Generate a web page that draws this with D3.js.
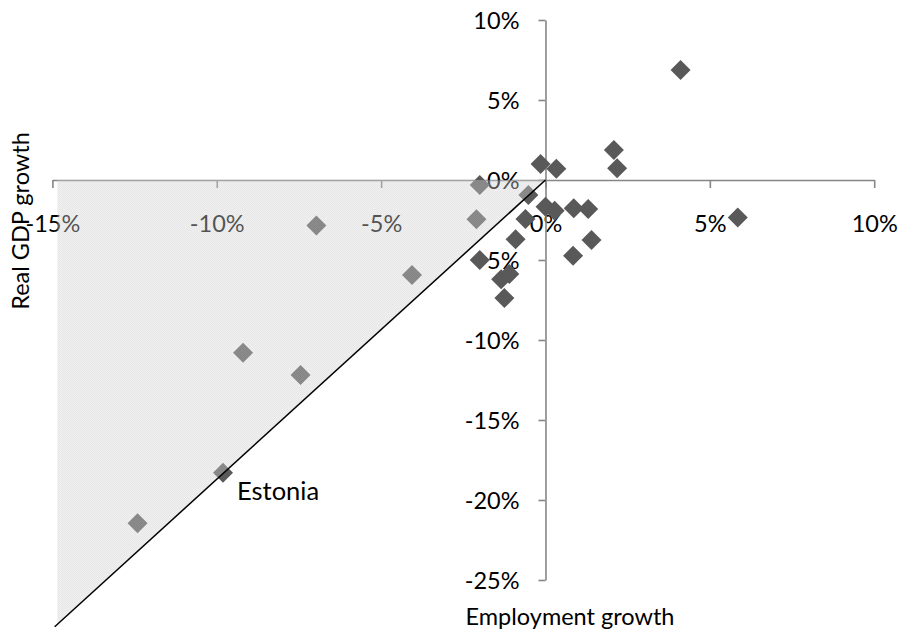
<!DOCTYPE html>
<html>
<head>
<meta charset="utf-8">
<script src="https://cdn.jsdelivr.net/npm/d3@7"></script>
<style>
  html, body { margin: 0; padding: 0; background: #fff; }
  svg { display: block; }
  text { font-family: Lato, "Open Sans", sans-serif; fill: #000; }
</style>
</head>
<body>
<svg id="chart" width="900" height="632"></svg>
<script>
// Employment growth (x, %) and real GDP growth (y, %) per country
const employment = [4.11, 5.85, 2.08, 2.18, -0.15, 0.33, 0.00, 0.28, 0.86, 1.30, 1.40, 0.84,
                    -0.52, -0.61, -0.91, -2.00, -1.35, -1.10, -1.25, -2.00, -2.10, -6.97,
                    -4.06, -9.20, -7.45, -9.81, -12.41];
const gdpGrowth  = [6.88, -2.35, 1.88, 0.73, 1.00, 0.71, -1.67, -1.92, -1.77, -1.81, -3.75, -4.73,
                    -0.94, -2.44, -3.71, -5.00, -6.21, -5.88, -7.38, -0.31, -2.46, -2.85,
                    -5.94, -10.79, -12.19, -18.29, -21.46];
const countries  = ["", "", "", "", "", "", "", "", "", "", "", "",
                    "", "", "", "", "", "", "", "", "", "",
                    "", "", "", "Estonia", ""];

const xTicks = [-15, -10, -5, 0, 5, 10];
const yTicks = [10, 5, 0, -5, -10, -15, -20, -25];

// Reference line through the origin (GDP falls ~1.87x employment) and its shaded wedge
const refLine  = [[0, 0], [-14.93, -27.92]];
const shadeArea = [[-14.85, 0], [0, 0], [-14.85, -27.77]];

const svg = d3.select("#chart");
const x = d3.scaleLinear().domain([-15, 10]).range([52.4, 874.2]);
const y = d3.scaleLinear().domain([-25, 10]).range([580, 20]);

const axisColor = "#868686";
const fontSize = 23.5;

// x axis on the y = 0 line
const gx = svg.append("g")
  .attr("transform", `translate(0,${y(0)})`)
  .call(d3.axisBottom(x).tickValues(xTicks).tickSize(8).tickSizeOuter(0)
        .tickFormat(d => d + "%"));
gx.select(".domain").attr("stroke", axisColor).attr("stroke-width", 1.6);
gx.selectAll(".tick line").attr("stroke", axisColor).attr("stroke-width", 1.6);
gx.selectAll(".tick text")
  .attr("y", 51.7).attr("dy", null)
  .style("font-size", fontSize + "px").attr("fill", "#000");

// y axis on the x = 0 line
const gy = svg.append("g")
  .attr("transform", `translate(${x(0)},0)`)
  .call(d3.axisLeft(y).tickValues(yTicks).tickSize(7).tickSizeOuter(0)
        .tickFormat(d => d + "%"));
gy.select(".domain").attr("stroke", axisColor).attr("stroke-width", 1.6);
gy.selectAll(".tick line").attr("stroke", axisColor).attr("stroke-width", 1.6);
gy.selectAll(".tick text")
  .attr("x", -26).attr("dy", "0.38em")
  .style("font-size", fontSize + "px").attr("fill", "#000");

// Country markers (diamonds)
const pts = employment.map((e, i) => ({ e, g: gdpGrowth[i], name: countries[i] }));
const r = 10;
svg.append("g").selectAll("path")
  .data(pts)
  .join("path")
  .attr("d", `M0,${-r}L${r},0L0,${r}L${-r},0Z`)
  .attr("transform", d => `translate(${x(d.e)},${y(d.g)})`)
  .attr("fill", "#595959");

// Shaded wedge laid over the markers and labels
const defs = svg.append("defs");
const pat = defs.append("pattern")
  .attr("id", "dots").attr("width", 2).attr("height", 2)
  .attr("patternUnits", "userSpaceOnUse");
pat.append("rect").attr("width", 2).attr("height", 2).attr("fill", "#d8d8d8");
pat.append("rect").attr("width", 1).attr("height", 1).attr("fill", "#c6c6c6");
pat.append("rect").attr("x", 1).attr("y", 1).attr("width", 1).attr("height", 1).attr("fill", "#c6c6c6");

svg.append("path")
  .attr("d", d3.line().x(d => x(d[0])).y(d => y(d[1]))(shadeArea) + "Z")
  .attr("fill", "url(#dots)")
  .attr("fill-opacity", 0.4);

// Reference line
svg.append("path")
  .attr("d", d3.line().x(d => x(d[0])).y(d => y(d[1]))(refLine))
  .attr("stroke", "#000").attr("stroke-width", 1.5).attr("fill", "none");

// Country label
svg.append("g").selectAll("text")
  .data(pts.filter(d => d.name))
  .join("text")
  .attr("x", d => x(d.e) + 14)
  .attr("y", d => y(d.g) + 27.5)
  .style("font-size", "25.5px")
  .text(d => d.name);

// Axis titles
svg.append("text")
  .attr("x", 570).attr("y", 625)
  .attr("text-anchor", "middle")
  .style("font-size", fontSize + "px")
  .text("Employment growth");

svg.append("text")
  .attr("transform", "translate(28.5,221) rotate(-90)")
  .attr("text-anchor", "middle")
  .style("font-size", fontSize + "px")
  .text("Real GDP growth");
</script>
</body>
</html>
